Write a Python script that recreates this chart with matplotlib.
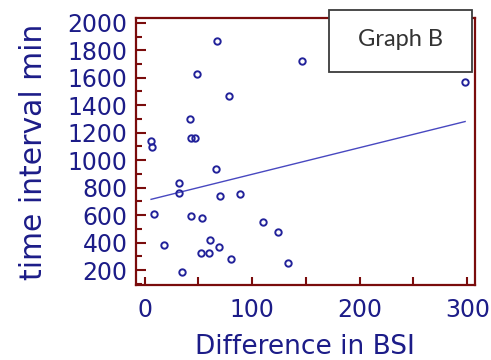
import matplotlib
matplotlib.use("Agg")
import matplotlib.pyplot as plt
import numpy as np
from matplotlib.patches import Rectangle
from matplotlib.ticker import MultipleLocator

# values
bsi_diff = [67, 146, 298, 49, 78, 42, 43, 47, 6, 7, 66, 32, 32, 70, 89,
            9, 43, 53, 110, 124, 18, 61, 69, 52, 60, 80, 133, 35]
time_min = [1870, 1720, 1567, 1630, 1470, 1303, 1160, 1160, 1140, 1095, 933, 832, 759, 737, 752,
            607, 592, 578, 549, 476, 382, 418, 367, 324, 324, 280, 251, 186]
fit_intercept = 703
fit_slope = 1.94

x_ticks = [0, 100, 200, 300]
y_ticks = [200, 400, 600, 800, 1000, 1200, 1400, 1600, 1800, 2000]

navy = "#1c1c88"
spine_red = "#7a0c0c"

fig = plt.figure(figsize=(4.91, 3.6), dpi=100)
ax = fig.add_axes([0.277, 0.208, 0.690, 0.742])

ax.plot(bsi_diff, time_min, "o", ms=4.6, mfc="none", mec="#22229a", mew=1.4, zorder=3)
xs = np.array([min(bsi_diff), max(bsi_diff)])
ax.plot(xs, fit_intercept + fit_slope * xs, color="#4848c0", lw=1.0, zorder=2)

ax.set_xlim(-8, 307)
ax.set_ylim(90, 2035)
ax.set_xticks(x_ticks)
ax.xaxis.set_minor_locator(MultipleLocator(50))
ax.set_yticks(y_ticks)
ax.yaxis.set_minor_locator(MultipleLocator(100))

for s in ax.spines.values():
    s.set_color(spine_red)
    s.set_linewidth(1.6)
ax.tick_params(which="both", direction="in", color=spine_red, width=1.5,
               labelsize=17, labelcolor=navy, top=False, right=False)
ax.tick_params(axis="y", which="major", length=7, pad=6)
ax.tick_params(axis="y", which="minor", length=4)
ax.tick_params(axis="x", which="both", length=6, pad=9)

ax.set_xlabel("Difference in BSI", fontsize=19, color=navy, labelpad=9)
ax.set_ylabel("time interval min", fontsize=21.5, color=navy, labelpad=14)

# "Graph B" box sitting over the top-right corner
W, H = 491, 360
fig.add_artist(Rectangle((329 / W, 1 - 72 / H), 143 / W, 62 / H, transform=fig.transFigure,
                         facecolor="white", edgecolor="#3c3c3c", lw=1.3, zorder=10))
fig.text(400 / W, 1 - 40 / H, "Graph B", fontsize=17, family="Lato", color="#333333",
         ha="center", va="center", zorder=11)

fig.savefig("out.png", dpi=100)
